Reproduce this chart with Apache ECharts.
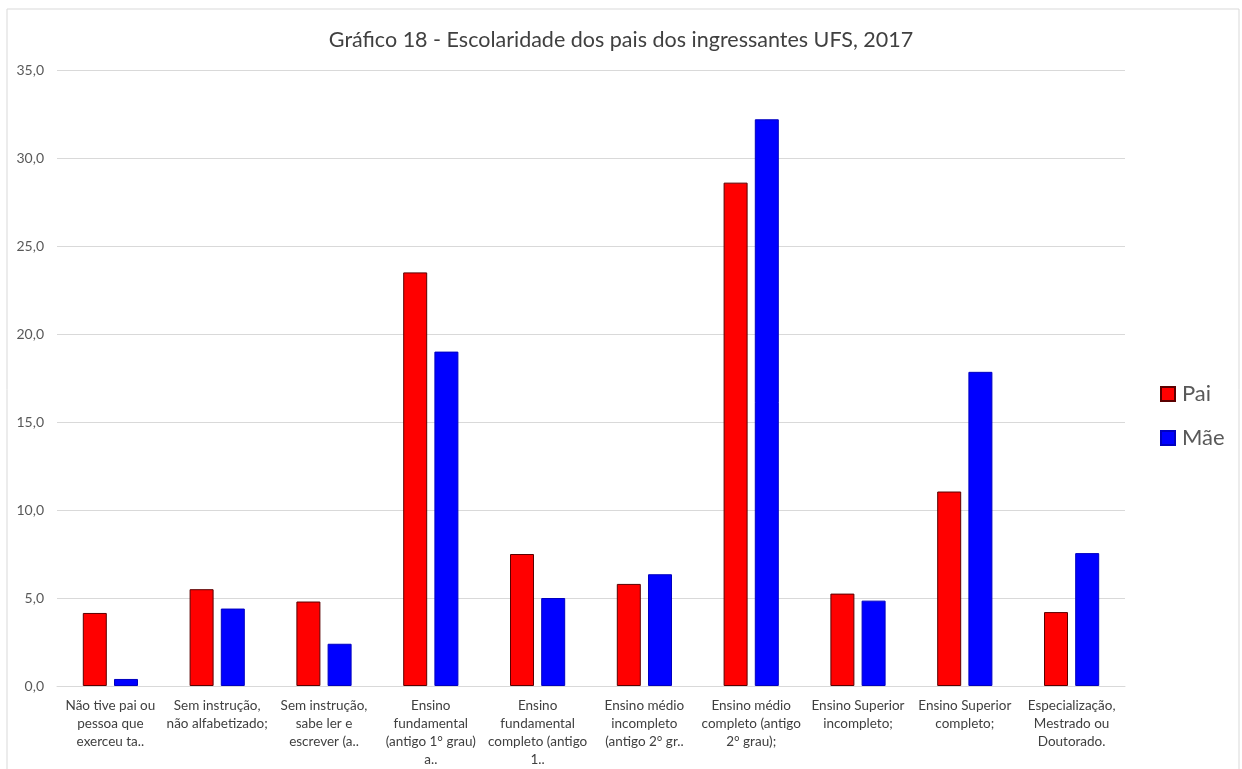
<!DOCTYPE html>
<html>
<head>
<meta charset="utf-8">
<script src="https://cdn.jsdelivr.net/npm/echarts@6/dist/echarts.min.js"></script>
<style>
  html, body { margin: 0; padding: 0; background: #fff; }
  #chart { width: 1242px; height: 769px; }
</style>
</head>
<body>
<div id="chart"></div>
<script>
// categorias (quebras de linha como no original)
const categories = [
  'Não tive pai ou\npessoa que\nexerceu ta..',
  'Sem instrução,\nnão alfabetizado;',
  'Sem instrução,\nsabe ler e\nescrever (a..',
  'Ensino\nfundamental\n(antigo 1° grau)\na..',
  'Ensino\nfundamental\ncompleto (antigo\n1..',
  'Ensino médio\nincompleto\n(antigo 2° gr..',
  'Ensino médio\ncompleto (antigo\n2° grau);',
  'Ensino Superior\nincompleto;',
  'Ensino Superior\ncompleto;',
  'Especialização,\nMestrado ou\nDoutorado.',
];

const pai = [4.15, 5.5, 4.8, 23.5, 7.5, 5.8, 28.6, 5.25, 11.05, 4.2];
const mae = [0.4, 4.4, 2.4, 19.0, 5.0, 6.35, 32.2, 4.85, 17.85, 7.55];

const font = 'Lato, "Open Sans", sans-serif';

const chart = echarts.init(document.getElementById('chart'));

chart.setOption({
  animation: false,
  backgroundColor: '#fff',
  textStyle: { fontFamily: font },
  title: {
    text: 'Gráfico 18 - Escolaridade dos pais dos ingressantes UFS, 2017',
    left: 'center',
    top: 24,
    textStyle: { fontFamily: font, fontSize: 21.5, fontWeight: 'normal', color: '#404040' },
  },
  graphic: [
    {
      type: 'rect',
      shape: { x: 7, y: 9, width: 1232, height: 780 },
      style: { fill: 'none', stroke: '#d9d9d9', lineWidth: 1 },
      silent: true,
    },
  ],
  legend: {
    orient: 'vertical',
    left: 1155,
    top: 378,
    itemWidth: 14,
    itemHeight: 14,
    itemGap: 22,
    icon: 'rect',
    textStyle: { fontFamily: font, fontSize: 22, color: '#595959', padding: [0, 0, 0, 2] },
    data: ['Pai', 'Mãe'],
  },
  grid: { left: 57, right: 117, top: 70, bottom: 83 },
  xAxis: {
    type: 'category',
    data: categories,
    axisTick: { show: false },
    axisLine: { lineStyle: { color: '#d9d9d9' } },
    axisLabel: {
      interval: 0,
      margin: 11,
      lineHeight: 18,
      fontSize: 13.5,
      color: '#404040',
      fontFamily: font,
    },
  },
  yAxis: {
    type: 'value',
    min: 0,
    max: 35,
    interval: 5,
    axisLine: { show: false },
    axisTick: { show: false },
    splitLine: { lineStyle: { color: '#d9d9d9' } },
    axisLabel: {
      fontSize: 14,
      color: '#595959',
      margin: 13,
      fontFamily: font,
      formatter: v => v.toFixed(1).replace('.', ','),
    },
  },
  series: [
    {
      name: 'Pai',
      type: 'bar',
      data: pai,
      barWidth: 24,
      barGap: '30%',
      itemStyle: { color: '#ff0000', borderColor: '#5a0000', borderWidth: 1 },
    },
    {
      name: 'Mãe',
      type: 'bar',
      data: mae,
      barWidth: 24,
      itemStyle: { color: '#0000ff', borderColor: '#0000c0', borderWidth: 1 },
    },
  ],
});
</script>
</body>
</html>
